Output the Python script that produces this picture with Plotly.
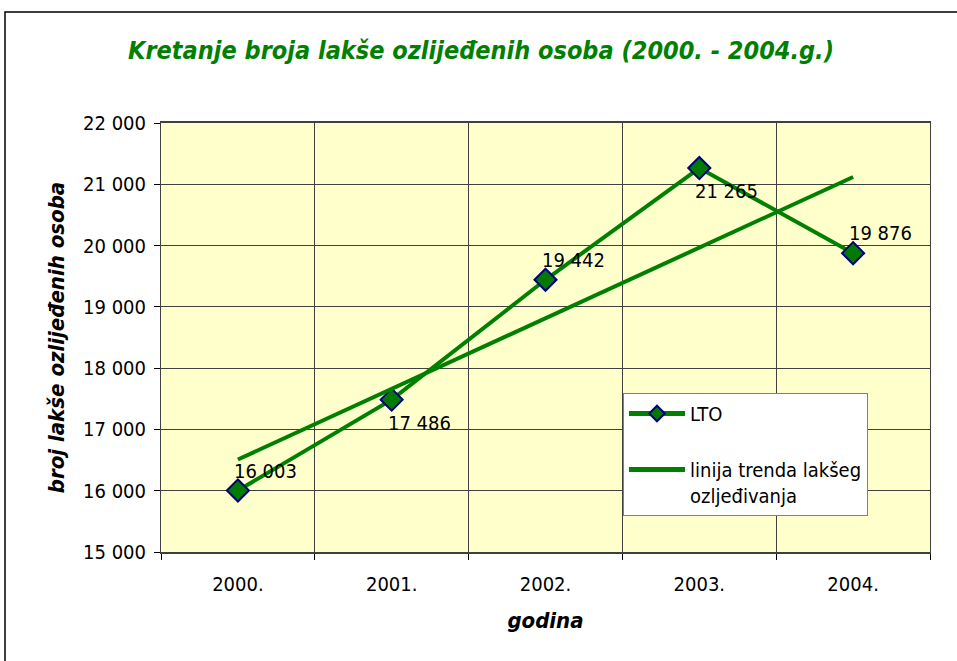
import plotly.graph_objects as go

years = ["2000.", "2001.", "2002.", "2003.", "2004."]
lto = [16003, 17486, 19442, 21265, 19876]
lto_labels = ["16 003", "17 486", "19 442", "21 265", "19 876"]
label_above = [True, False, True, False, True]
trend_years = ["2000.", "2004."]
trend_values = [16509, 21119]
y_ticks = [15000, 16000, 17000, 18000, 19000, 20000, 21000, 22000]
y_tick_text = ["15 000", "16 000", "17 000", "18 000", "19 000", "20 000", "21 000", "22 000"]

GREEN = "#008000"
FONT = "DejaVu Sans Condensed, DejaVu Sans"

fig = go.Figure()
fig.add_trace(go.Scatter(
    x=years, y=lto, name="LTO", mode="lines+markers", legendgroup="a",
    line=dict(color=GREEN, width=4),
    marker=dict(symbol="diamond", size=17, color="#007a00",
                line=dict(color="#000080", width=2)),
))
fig.add_trace(go.Scatter(
    x=trend_years, y=trend_values, name="linija trenda lakšeg<br>ozljeđivanja",
    mode="lines", line=dict(color=GREEN, width=4), legendgroup="b",
))

for i, (yv, lab, above) in enumerate(zip(lto, lto_labels, label_above)):
    fig.add_annotation(x=i, y=yv, xref="x", yref="y", text=lab, showarrow=False,
                       xanchor="left", yanchor="middle",
                       xshift=-6, yshift=20 if above else -23,
                       font=dict(family=FONT, size=20, color="black"))

L, R, T, B = 161, 27, 123, 109
W, H = 957, 661
pw, ph = W - L - R, H - T - B

fig.add_shape(type="rect", xref="paper", yref="paper",
              x0=(5 - L) / pw, x1=(W + 20 - L) / pw,
              y0=-(B + 20) / ph, y1=(H - B - 12) / ph,
              line=dict(color="black", width=1.5), fillcolor="rgba(0,0,0,0)", layer="below")

fig.update_layout(
    width=W, height=H,
    margin=dict(l=L, r=R, t=T, b=B),
    paper_bgcolor="white", plot_bgcolor="#FFFFCC",
    title=dict(text="<b><i>Kretanje broja lakše ozlijeđenih osoba (2000. - 2004.g.)</i></b>",
               x=481 / W, xanchor="center", xref="container", y=1 - 50 / H, yanchor="middle",
               font=dict(family=FONT, size=25, color=GREEN)),
    font=dict(family=FONT, size=20, color="black"),
    showlegend=True,
    legend=dict(x=(623 - L) / pw, y=(H - B - 393) / ph, xanchor="left", yanchor="top",
                bgcolor="white", bordercolor="#808080", borderwidth=1,
                font=dict(family=FONT, size=20, color="black"),
                tracegroupgap=27, itemwidth=56, valign="top", itemsizing="constant"),
    xaxis=dict(type="category", categoryorder="array", categoryarray=years,
               tickson="boundaries", showgrid=True, gridcolor="#404040", gridwidth=1,
               ticks="outside", ticklen=6, tickcolor="black",
               showline=True, linecolor="#404040", linewidth=2, mirror=True,
               tickfont=dict(family=FONT, size=20), ticklabelstandoff=13,
               title=dict(text="<b><i>godina</i></b>", font=dict(family=FONT, size=22), standoff=18),
               range=[-0.5, 4.5]),
    yaxis=dict(range=[15000, 22000], tickvals=y_ticks, ticktext=y_tick_text,
               showgrid=True, gridcolor="#404040", gridwidth=1,
               ticks="outside", ticklen=6, tickcolor="black",
               showline=True, linecolor="#404040", linewidth=1, mirror=True,
               tickfont=dict(family=FONT, size=20), zeroline=False, ticklabelstandoff=4,
               title=dict(text="<b><i>broj lakše ozlijeđenih osoba</i></b>",
                          font=dict(family=FONT, size=22), standoff=12)),
)

fig.write_html("out.html", config={"displayModeBar": False},
               post_script="document.body.style.margin='0px';")
